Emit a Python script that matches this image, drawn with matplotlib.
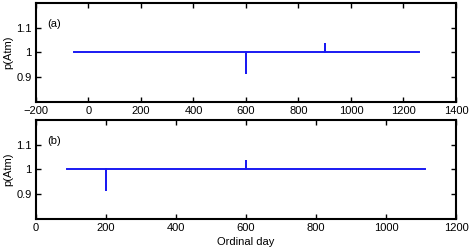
import matplotlib
matplotlib.use("Agg")
import matplotlib.pyplot as plt

matplotlib.rcParams['font.family'] = ['Liberation Sans', 'DejaVu Sans']
matplotlib.rcParams['font.size'] = 8

# panel (a): ordinal day vs pressure
day_a = [-55, 600, 600, 600, 900, 900, 900, 1260]
p_a = [1.0, 1.0, 0.915, 1.0, 1.0, 1.035, 1.0, 1.0]

# panel (b)
day_b = [90, 200, 200, 200, 600, 600, 600, 1110]
p_b = [1.0, 1.0, 0.915, 1.0, 1.0, 1.035, 1.0, 1.0]

xticks_a = [-200, 0, 200, 400, 600, 800, 1000, 1200, 1400]
xticks_b = [0, 200, 400, 600, 800, 1000, 1200]
yticks = [0.9, 1.0, 1.1]
yticklabels = ["0.9", "1", "1.1"]

fig = plt.figure(figsize=(4.77, 2.52), dpi=100)
ax1 = fig.add_axes([36 / 477, 1 - 101.7 / 252, 420 / 477, 98.7 / 252])
ax2 = fig.add_axes([36 / 477, 1 - 218.7 / 252, 420 / 477, 98.7 / 252])


def style(ax, x, y, xticks, xlim, tag):
    ax.plot(x, y, color=(0.1, 0.1, 0.95), linewidth=1.4)
    ax.set_xlim(xlim)
    ax.set_ylim(0.8, 1.2)
    ax.set_xticks(xticks)
    ax.set_xticklabels([str(t) if t >= 0 else "\u2212" + str(-t) for t in xticks])
    ax.set_yticks(yticks)
    ax.set_yticklabels(yticklabels)
    ax.tick_params(direction='in', top=True, right=True, length=3.5, width=1.0, pad=3)
    for s in ax.spines.values():
        s.set_linewidth(1.5)
    ax.set_ylabel("p(Atm)", labelpad=2)
    ax.text(0.027, 0.785, tag, transform=ax.transAxes, va='center')


style(ax1, day_a, p_a, xticks_a, (-200, 1400), "(a)")
style(ax2, day_b, p_b, xticks_b, (0, 1200), "(b)")
ax2.set_xlabel("Ordinal day", labelpad=3)

fig.savefig("out.png", dpi=100)
